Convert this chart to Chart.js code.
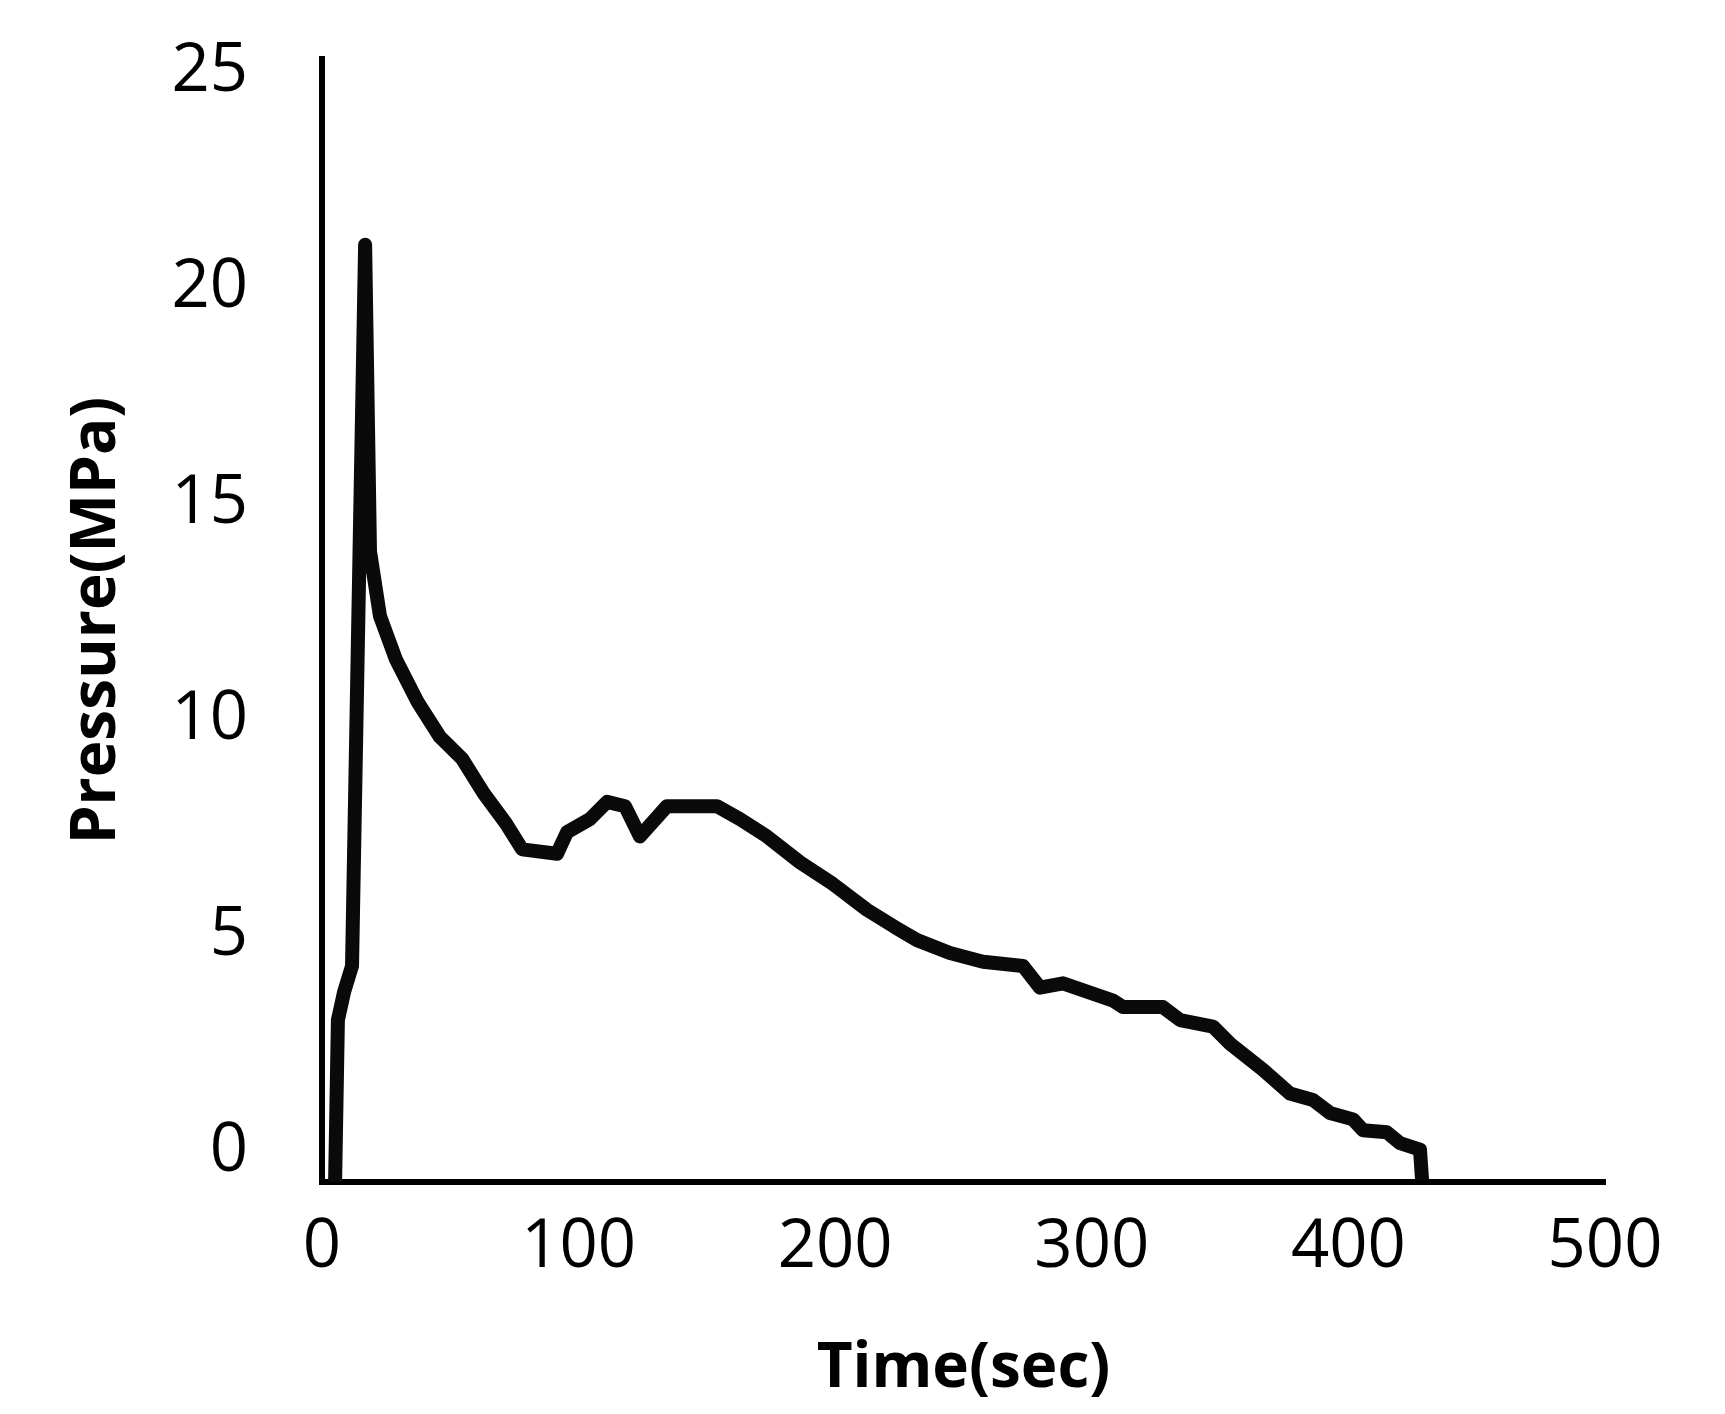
<!DOCTYPE html>
<html>
<head>
<meta charset="utf-8">
<script src="https://cdn.jsdelivr.net/npm/chart.js@4.4.1/dist/chart.umd.min.js"></script>
<style>
  html, body { margin: 0; padding: 0; background: #fff; }
  #wrap { width: 1725px; height: 1414px; position: relative; }
</style>
</head>
<body>
<div id="wrap"><canvas id="pressure_chart"></canvas></div>
<script>
// PRESSURE vs TIME
const timeSec = [
    5.1, 6.2, 8.6, 11.7, 16.8, 18.7, 22.6, 28.8, 37.4, 46.0,
    54.6, 63.0, 71.7, 78.0, 91.6, 95.5, 104.4, 111.1, 118.1, 123.9,
    134.4, 153.9, 162.9, 173.4, 186.3, 199.1, 212.4, 223.3, 231.9, 244.7,
    257.6, 273.2, 279.8, 288.8, 308.3, 312.2, 327.7, 334.4, 347.2, 353.9,
    366.7, 377.2, 386.2, 392.8, 401.8, 405.7, 415.0, 420.1, 427.9, 428.7
];
const pressureMPa = [
    0, 3.75, 4.4, 5.0, 21.7, 14.6, 13.1, 12.1, 11.1, 10.3,
    9.8, 9.0, 8.3, 7.7, 7.6, 8.1, 8.4, 8.8, 8.7, 8.0,
    8.7, 8.7, 8.4, 8.0, 7.4, 6.9, 6.3, 5.9, 5.6, 5.3,
    5.1, 5.0, 4.5, 4.6, 4.2, 4.05, 4.05, 3.75, 3.6, 3.2,
    2.6, 2.05, 1.9, 1.6, 1.45, 1.2, 1.15, 0.9, 0.75, 0.05
];
const xTicks = [0, 100, 200, 300, 400, 500];
const yTicks = [0, 5, 10, 15, 20, 25];

const points = timeSec.map((t, i) => ({ x: t, y: pressureMPa[i] }));

const chart_data = {
    datasets: [{
        label: 'Pressure',
        data: points,
        borderColor: '#0a0a0a',
        borderWidth: 14,
        borderJoinStyle: 'round',
        pointRadius: 0,
        tension: 0,
        fill: false
    }]
};

const tickFont = { family: 'Open Sans', size: 67 };
const titleFont = { family: 'Open Sans', size: 62, weight: 'bold' };

const config = {
    type: 'line',
    data: chart_data,
    options: {
        responsive: true,
        maintainAspectRatio: false,
        animation: false,
        layout: { padding: { left: 0, right: 120, top: 59, bottom: 0 } },
        plugins: {
            legend: { display: false },
            tooltip: { enabled: false }
        },
        scales: {
            x: {
                type: 'linear',
                min: 0,
                max: 500,
                afterBuildTicks: scale => { scale.ticks = xTicks.map(v => ({ value: v })); },
                afterFit: scale => {
                    scale.height = 232;
                    scale.paddingLeft = 0;
                    scale.paddingRight = 0;
                },
                grid: { display: false, drawTicks: false },
                border: { display: true, color: '#000', width: 6 },
                ticks: { color: '#000', font: tickFont, padding: 26, maxRotation: 0 },
                title: {
                    display: true,
                    text: 'Time(sec)',
                    color: '#000',
                    font: titleFont,
                    padding: { top: 0, bottom: 7 }
                }
            },
            y: {
                min: 0,
                max: 26,
                afterBuildTicks: scale => { scale.ticks = yTicks.map(v => ({ value: v })); },
                afterFit: scale => {
                    scale.width = 322;
                    scale.paddingTop = 0;
                    scale.paddingBottom = 0;
                },
                grid: { display: false, drawTicks: false },
                border: { display: true, color: '#000', width: 6 },
                ticks: { color: '#000', font: tickFont, padding: 74, labelOffset: -30 },
                title: {
                    display: true,
                    text: 'Pressure(MPa)',
                    color: '#000',
                    font: titleFont,
                    padding: { top: 60, bottom: 0 }
                }
            }
        }
    }
};

const chart = new Chart(document.getElementById('pressure_chart'), config);
</script>
</body>
</html>
